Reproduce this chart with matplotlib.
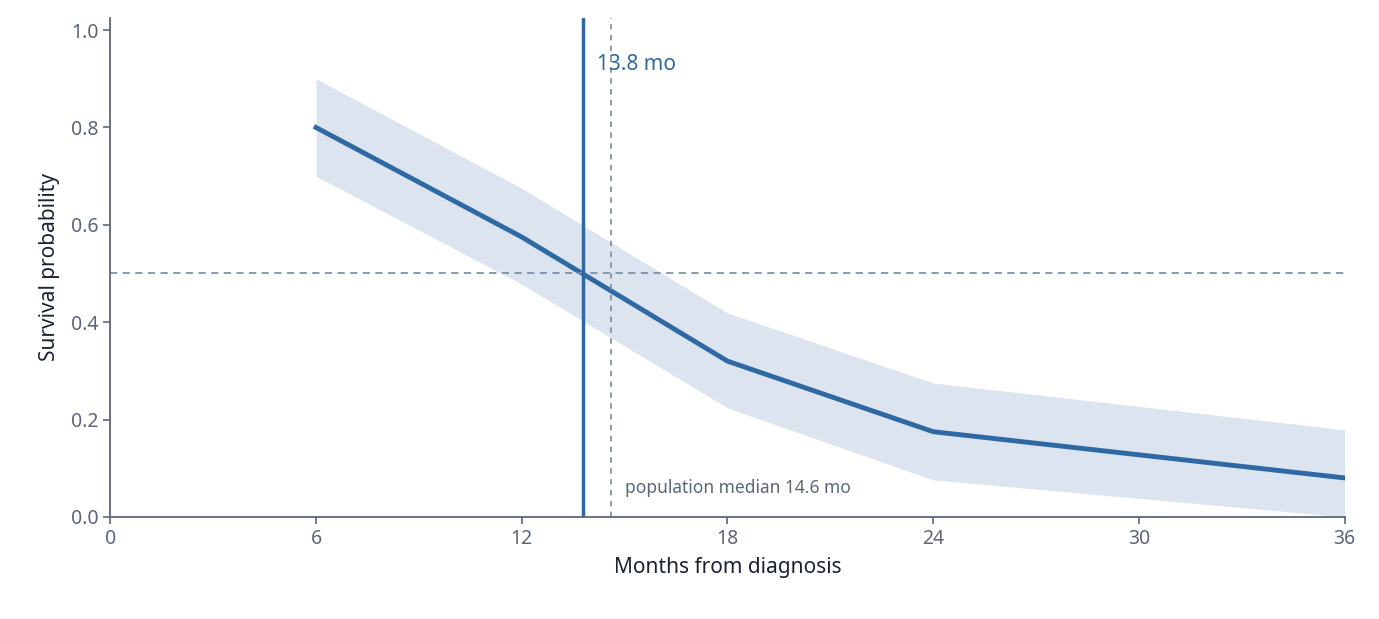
import matplotlib
matplotlib.use("Agg")
import matplotlib.pyplot as plt

plt.rcParams['font.family'] = ['Noto Sans', 'DejaVu Sans']

months = [6, 12, 18, 24, 36]
surv = [0.80, 0.575, 0.32, 0.175, 0.08]
lower = [0.70, 0.478, 0.224, 0.076, -0.02]
upper = [0.90, 0.675, 0.419, 0.275, 0.179]
median_est = 13.8
pop_median = 14.6
xticks = [0, 6, 12, 18, 24, 30, 36]

blue = '#2f69a3'
gray = '#5b6779'

fig = plt.figure(figsize=(13.79, 6.19), dpi=100)
ax = fig.add_axes([0.08, 0.165, 0.895, 0.806])
ax.fill_between(months, [max(v, 0) for v in lower], upper, color='#dbe4ef', lw=0)
ax.plot(months, surv, color=blue, lw=3.5, solid_joinstyle='round')
ax.axhline(0.5, color='#7f92ab', ls=(0, (4, 3)), lw=1.3)
ax.axvline(median_est, color=blue, lw=2.5)
ax.axvline(pop_median, color='#8592a6', ls=(0, (3, 3)), lw=1.3)
ax.text(median_est + 0.4, 0.93, f"{median_est} mo", color=blue, fontsize=15, fontweight='bold', va='center')
ax.text(pop_median + 0.4, 0.06, f"population median {pop_median} mo", color=gray, fontsize=12.5, va='center')

ax.set_xlim(0, 36)
ax.set_ylim(0, 1.025)
ax.set_xticks(xticks)
ax.set_yticks([0, 0.2, 0.4, 0.6, 0.8, 1.0])
ax.set_yticklabels(['0.0', '0.2', '0.4', '0.6', '0.8', '1.0'])
for s in ['top', 'right']:
    ax.spines[s].set_visible(False)
for s in ['left', 'bottom']:
    ax.spines[s].set_color(gray)
    ax.spines[s].set_linewidth(1.3)
ax.tick_params(colors=gray, labelsize=14, length=5, width=1.2)
ax.set_xlabel("Months from diagnosis", fontsize=15, color='#1a2233', labelpad=6)
ax.set_ylabel("Survival probability", fontsize=15, color='#1a2233', labelpad=8)
fig.savefig("out.png", dpi=100)
